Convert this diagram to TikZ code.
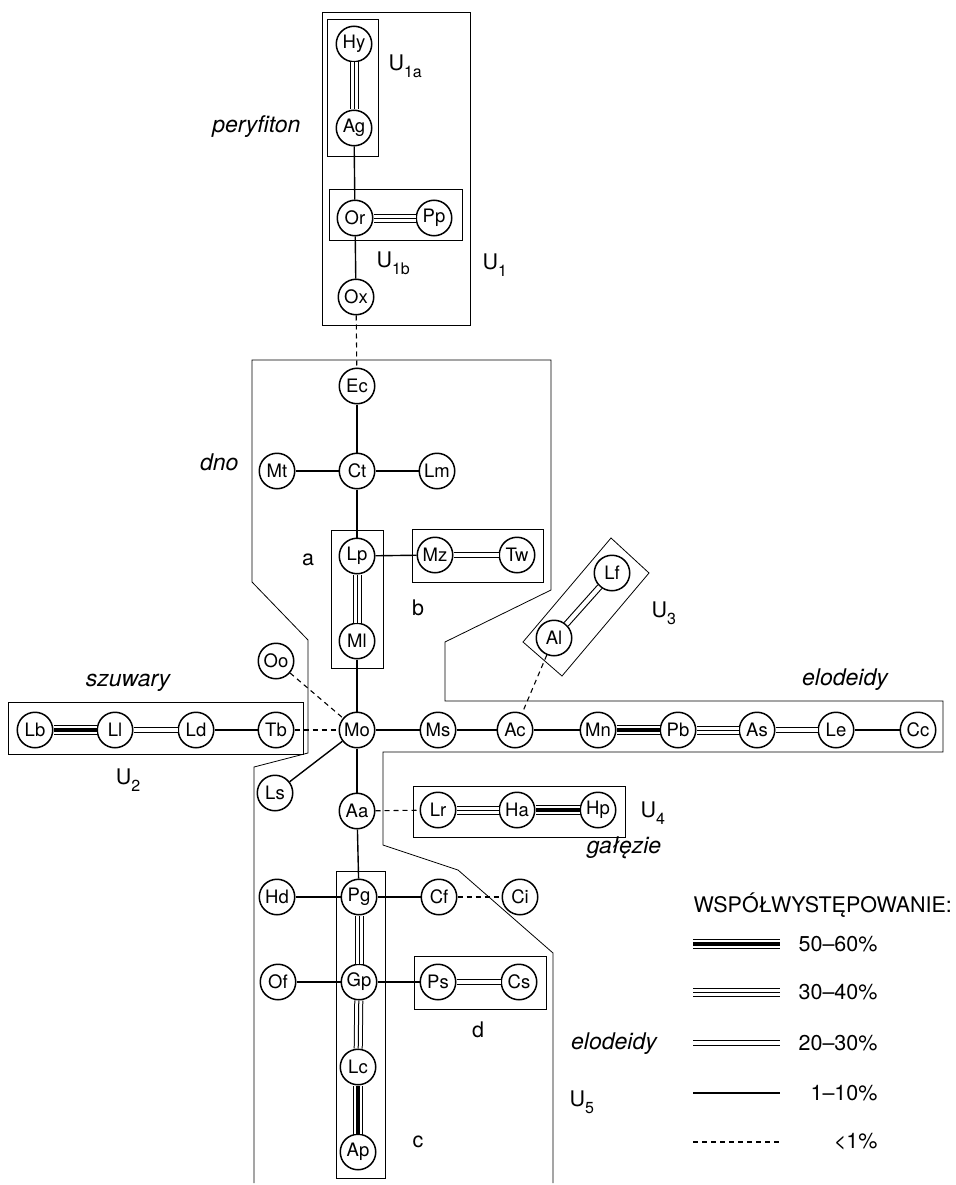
\documentclass[tikz,border=0pt]{standalone}
\usepackage{fontspec}
\setmainfont{TeX Gyre Heros}
\usetikzlibrary{automata,positioning}
\newcommand\grp[1]{U\raisebox{-.32em}{\fontsize{16}{16}\selectfont #1}}

\begin{document}
\begin{tikzpicture}[x=1pt,y=-1pt,
  every state/.style={draw,line width=1.5pt,minimum size=35.5pt,inner sep=0pt,font=\fontsize{18.5}{18.5}\selectfont},
  lab/.style={font=\fontsize{21.5}{21.5}\selectfont},
  kind/.style={font=\fontsize{23}{23}\selectfont\itshape},
  box/.style={line width=.8pt},
  one/.style={line width=1.4pt},
  dsh/.style={line width=1.1pt,dash pattern=on 5pt off 4pt},
  dbl/.style={line width=1.1pt,double,double distance=4.2pt},
  tri/.style={line width=1pt,preaction={draw,line width=1pt,double,double distance=7pt}},
  hvy/.style={line width=4.5pt,preaction={draw,line width=1pt,double,double distance=8.5pt}}]
  \useasboundingbox (0,0) rectangle (955,1185);

  % U1
  \node[state] (Hy) at (354,44) {Hy};
  \node[state] (Ag) at (354,128) {Ag};
  \node[state] (Or) at (355,218) {Or};
  \node[state] (Pp) at (434,218) {Pp};
  \node[state] (Ox) at (356,297) {Ox};
  % dno
  \node[state] (Ec) at (357,386) {Ec};
  \node[state] (Ct) at (357,471) {Ct};
  \node[state] (Mt) at (277,471) {Mt};
  \node[state] (Lm) at (437,471) {Lm};
  \node[state] (Lp) at (357,556) {Lp};
  \node[state] (Mz) at (435,555) {Mz};
  \node[state] (Tw) at (517,555) {Tw};
  \node[state] (Ml) at (357,641) {Ml};
  \node[state] (Oo) at (276,661) {Oo};
  \node[state] (Mo) at (357,730) {Mo};
  \node[state] (Ls) at (275,793) {Ls};
  % U2
  \node[state] (Lb) at (35,730) {Lb};
  \node[state] (Ll) at (115,730) {Ll};
  \node[state] (Ld) at (196,730) {Ld};
  \node[state] (Tb) at (276,730) {Tb};
  % elodeidy
  \node[state] (Ms) at (438,730) {Ms};
  \node[state] (Ac) at (515,730) {Ac};
  \node[state] (Mn) at (598,730) {Mn};
  \node[state] (Pb) at (678,730) {Pb};
  \node[state] (As) at (757,730) {As};
  \node[state] (Le) at (836,730) {Le};
  \node[state] (Cc) at (918,730) {Cc};
  \node[state] (Al) at (554,638) {Al};
  \node[state] (Lf) at (612,573) {Lf};
  % U4, U5
  \node[state] (Aa) at (357,811) {Aa};
  \node[state] (Lr) at (438,810) {Lr};
  \node[state] (Ha) at (517,810) {Ha};
  \node[state] (Hp) at (598,810) {Hp};
  \node[state] (Hd) at (277,897) {Hd};
  \node[state] (Pg) at (359,897) {Pg};
  \node[state] (Cf) at (439,897) {Cf};
  \node[state] (Ci) at (520,897) {Ci};
  \node[state] (Of) at (278,982) {Of};
  \node[state] (Gp) at (359,982) {Gp};
  \node[state] (Ps) at (438,982) {Ps};
  \node[state] (Cs) at (519,982) {Cs};
  \node[state] (Lc) at (358,1067) {Lc};
  \node[state] (Ap) at (358,1152) {Ap};

  \path
    (Hy) edge[tri] (Ag)
    (Ag) edge[one] (Or)
    (Or) edge[tri] (Pp)
    (Or) edge[one] (Ox)
    (Ox) edge[dsh] (Ec)
    (Ec) edge[one] (Ct)
    (Mt) edge[one] (Ct)
    (Ct) edge[one] (Lm)
    (Ct) edge[one] (Lp)
    (Lp) edge[one] (Mz)
    (Mz) edge[dbl] (Tw)
    (Lp) edge[tri] (Ml)
    (Ml) edge[one] (Mo)
    (Oo) edge[dsh] (Mo)
    (Tb) edge[dsh] (Mo)
    (Lb) edge[hvy] (Ll)
    (Ll) edge[dbl] (Ld)
    (Ld) edge[one] (Tb)
    (Mo) edge[one] (Ms)
    (Ms) edge[one] (Ac)
    (Ac) edge[one] (Mn)
    (Mn) edge[hvy] (Pb)
    (Pb) edge[tri] (As)
    (As) edge[dbl] (Le)
    (Le) edge[one] (Cc)
    (Al) edge[dsh] (Ac)
    (Al) edge[dbl] (Lf)
    (Mo) edge[one] (Ls)
    (Mo) edge[one] (Aa)
    (Aa) edge[dsh] (Lr)
    (Lr) edge[tri] (Ha)
    (Ha) edge[hvy] (Hp)
    (Aa) edge[one] (Pg)
    (Hd) edge[one] (Pg)
    (Pg) edge[one] (Cf)
    (Cf) edge[dsh] (Ci)
    (Pg) edge[tri] (Gp)
    (Of) edge[one] (Gp)
    (Gp) edge[one] (Ps)
    (Ps) edge[dbl] (Cs)
    (Gp) edge[tri] (Lc)
    (Lc) edge[hvy] (Ap);

  % group frames
  \draw[box] (322,12) rectangle (470,325);
  \draw[box] (327,19) rectangle (378,156);
  \draw[box] (329,189) rectangle (462,240);
  \draw[box] (331,530) rectangle (383,668);
  \draw[box] (412,529) rectangle (543,582);
  \draw[box] (8,702) rectangle (303,754);
  \draw[box] (413,786) rectangle (625,837);
  \draw[box] (336,871) rectangle (385,1178);
  \draw[box] (414,956) rectangle (546,1009);
  \draw[box] (611,538) -- (649,573) -- (562,676) -- (523,642) -- cycle;
  % outline of the lower zone
  \draw[box] (254,1183) -- (254,767) -- (308,753) -- (308,640) -- (252,582)
    -- (252,360) -- (551,360) -- (551,590) -- (445,642) -- (445,701)
    -- (943,701) -- (943,752) -- (383,752) -- (383,845) -- (458,870)
    -- (553,953) -- (553,1183);

  % labels
  \node[kind,anchor=east] at (304,127) {peryfiton};
  \node[lab,anchor=west] at (385,66) {\grp{1a}};
  \node[lab,anchor=west] at (373,263) {\grp{1b}};
  \node[lab,anchor=west] at (479,265) {\grp{1}};
  \node[kind,anchor=east] at (242,462) {dno};
  \node[lab] at (308,560) {a};
  \node[lab] at (418,608) {b};
  \node[kind] at (128,683) {szuwary};
  \node[lab] at (128,780) {\grp{2}};
  \node[lab,anchor=west] at (648,613) {\grp{3}};
  \node[kind] at (845,680) {elodeidy};
  \node[lab,anchor=west] at (637,813) {\grp{4}};
  \node[kind] at (624,848) {gałęzie};
  \node[lab] at (478,1030) {d};
  \node[lab] at (418,1142) {c};
  \node[kind] at (614,1044) {elodeidy};
  \node[lab,anchor=west] at (566,1102) {\grp{5}};

  % legend
  \node[lab,anchor=west] at (690,905) {WSPÓŁWYSTĘPOWANIE:};
  \foreach \y/\s/\t in {944/hvy/50--60\%, 992/tri/30--40\%, 1043/dbl/20--30\%,
                        1093/one/1--10\%, 1142/dsh/<1\%}{
    \draw[\s] (693,\y) -- (780,\y);
    \node[lab,anchor=east] at (881,\y) {\t};
  }
\end{tikzpicture}
\end{document}
